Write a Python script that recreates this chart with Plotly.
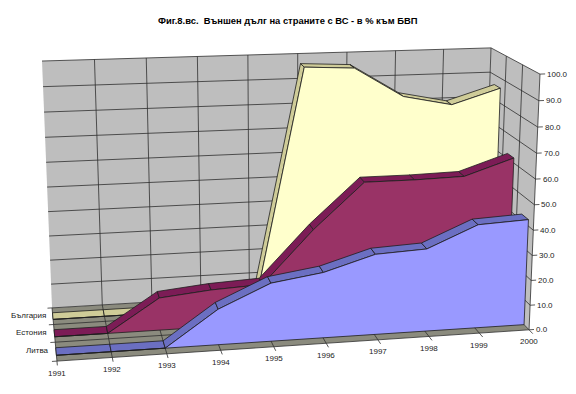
import numpy as np
import plotly.graph_objects as go

# ---- data ----
years = ["1991", "1992", "1993", "1994", "1995", "1996", "1997", "1998", "1999", "2000"]
series_names = ["Литва", "Естония", "България"]
litva = [0, 0, 0, 14, 23, 26, 32, 33, 41.5, 42.5]
estonia = [0, 0, 13, 15, 16, 37, 55, 55, 55.5, 62]
bulgaria = [0, 0, 0, 0, 0, 97, 96, 84, 80, 86]
value_ticks = [0, 10, 20, 30, 40, 50, 60, 70, 80, 90, 100]
title = "Фиг.8.вс.\u00a0 Външен дълг на страните с ВС - в % към БВП"

face_colors = ["#9999FF", "#993366", "#FFFFCC"]
top_colors = ["#6B6FC2", "#7C1C56", "#CFCC98"]
wall_color = "#BEBEBE"
floor_color = "#8B8B7E"
line_color = "#1E1E1E"
grid_color = "#2E2E2E"
text_color = "#222222"

# ---- perspective camera of the 3-D axes box: fitted to the box corners ----
nx, ny, vmax = len(years) - 1, len(series_names), 100.0
box_world = [(0, 0, 0), (nx, 0, 0), (0, ny, 0), (nx, ny, 0), (0, ny, vmax), (nx, ny, vmax), (nx, 0, vmax)]
box_screen = [(57, 361), (529, 330), (52, 308), (483, 282), (42, 61), (491, 48), (540, 74)]


def fit_camera(world, screen):
    rows = []
    for (X, Y, Z), (u, v) in zip(world, screen):
        rows.append([X, Y, Z, 1, 0, 0, 0, 0, -u * X, -u * Y, -u * Z, -u])
        rows.append([0, 0, 0, 0, X, Y, Z, 1, -v * X, -v * Y, -v * Z, -v])
    return np.linalg.svd(np.array(rows, float))[2][-1].reshape(3, 4)


CAM = fit_camera(box_world, box_screen)


def project(X, Y, Z):
    p = CAM @ np.array([X, Y, Z, 1.0])
    return p[0] / p[2], p[1] / p[2]


fig = go.Figure()


def poly(points, fill=None, line=None, width=0.8):
    xy = [project(*pt) for pt in points]
    xs = [a for a, _ in xy]
    ys = [b for _, b in xy]
    if fill:
        xs.append(xs[0])
        ys.append(ys[0])
    fig.add_trace(go.Scatter(
        x=xs, y=ys, mode="lines", hoverinfo="skip", showlegend=False,
        fill="toself" if fill else None, fillcolor=fill,
        line=dict(color=line if line else (fill or "rgba(0,0,0,0)"), width=width if line else 0.01),
    ))


def label(X, Y, Z, txt, pos, dx=0, dy=0, size=8):
    u, v = project(X, Y, Z)
    fig.add_annotation(x=u + dx, y=v + dy, text=txt, showarrow=False, xanchor=pos, yanchor="middle",
                       font=dict(family="Liberation Sans", size=size, color=text_color), xref="x", yref="y")


# walls and floor
poly([(0, ny, 0), (nx, ny, 0), (nx, ny, vmax), (0, ny, vmax)], fill=wall_color)
poly([(nx, 0, 0), (nx, ny, 0), (nx, ny, vmax), (nx, 0, vmax)], fill=wall_color)
poly([(0, 0, 0), (nx, 0, 0), (nx, ny, 0), (0, ny, 0)], fill=floor_color)

# wall grid
for v in value_ticks[1:]:
    poly([(0, ny, v), (nx, ny, v), (nx, 0, v)], line=grid_color)
for i in range(1, nx + 1):
    poly([(i, ny, 0), (i, ny, vmax)], line=grid_color)
for s in range(0, ny):
    poly([(nx, s, 0), (nx, s, vmax)], line=grid_color)

# floor grid
for i in range(0, nx + 1):
    poly([(i, 0, 0), (i, ny, 0)], line=grid_color)
for s in range(0, ny + 1):
    poly([(0, s, 0), (nx, s, 0)], line=grid_color)

# axis ticks and labels
for i, yr in enumerate(years):
    poly([(i, 0, 0), (i, -0.22, 0)], line=grid_color)
    label(i, 0, 0, yr, "center", dy=12)
for v in value_ticks:
    poly([(nx, 0, v), (nx + 0.1, 0, v)], line=grid_color)
    label(nx, 0, v, f"{v:.1f}", "left", dx=5)
for s in range(ny + 1):
    poly([(0, s, 0), (-0.09, s, 0)], line=grid_color)
for s, name in enumerate(series_names):
    label(0, s + 0.5, 0, name, "right", dx=-5, dy=-1)

# the three area ribbons, from the back one to the front one
band_front, band_back = 0.3, 0.7
for s in reversed(range(ny)):
    vals = [litva, estonia, bulgaria][s]
    yf, yb = s + band_front, s + band_back
    for i in range(nx):
        poly([(i, yf, vals[i]), (i + 1, yf, vals[i + 1]), (i + 1, yb, vals[i + 1]), (i, yb, vals[i])],
             fill=top_colors[s], line=line_color)
    face = [(i, yf, vals[i]) for i in range(nx + 1)] + [(nx, yf, 0), (0, yf, 0)]
    poly(face, fill=face_colors[s], line=line_color)

fig.add_annotation(x=288, y=20, text=f"<b>{title}</b>", showarrow=False, xanchor="center", yanchor="middle",
                   font=dict(family="Liberation Sans", size=9.4, color="#000000"), xref="x", yref="y")

fig.update_layout(
    width=576, height=394, margin=dict(l=0, r=0, t=0, b=0),
    paper_bgcolor="white", plot_bgcolor="white", showlegend=False,
    xaxis=dict(range=[0, 576], visible=False, fixedrange=True),
    yaxis=dict(range=[394, 0], visible=False, fixedrange=True),
)
fig.write_html("out.html", config={"displayModeBar": False},
               post_script="document.body.style.margin='0';document.body.style.overflow='hidden';")
